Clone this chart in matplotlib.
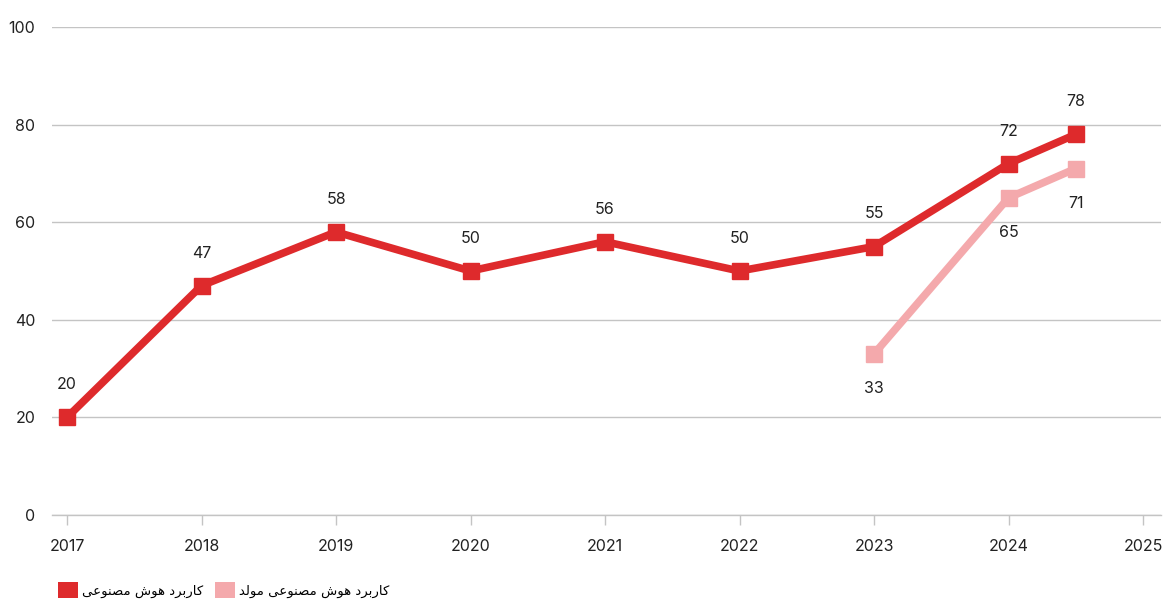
import matplotlib
matplotlib.use("Agg")
import matplotlib.pyplot as plt
from matplotlib.patches import Patch

# ---- data ----
years_ai = [2017, 2018, 2019, 2020, 2021, 2022, 2023, 2024, 2024.5]
values_ai = [20, 47, 58, 50, 56, 50, 55, 72, 78]
years_gen = [2023, 2024, 2024.5]
values_gen = [33, 65, 71]
xticks = [2017, 2018, 2019, 2020, 2021, 2022, 2023, 2024, 2025]
yticks = [0, 20, 40, 60, 80, 100]
label_ai = "کاربرد هوش مصنوعی"
label_gen = "کاربرد هوش مصنوعی مولد"

RED = "#DE2A2C"
PINK = "#F4A9AC"

# ---- minimal Arabic/Persian shaping (isolated, final, initial, medial) ----
FORMS = {
    "\u0627": ("\uFE8D", "\uFE8E", None, None),
    "\u062F": ("\uFEA9", "\uFEAA", None, None),
    "\u0631": ("\uFEAD", "\uFEAE", None, None),
    "\u0648": ("\uFEED", "\uFEEE", None, None),
    "\u06A9": ("\uFB8E", "\uFB8F", "\uFB90", "\uFB91"),
    "\u0628": ("\uFE8F", "\uFE90", "\uFE91", "\uFE92"),
    "\u0647": ("\uFEE9", "\uFEEA", "\uFEEB", "\uFEEC"),
    "\u0634": ("\uFEB5", "\uFEB6", "\uFEB7", "\uFEB8"),
    "\u0645": ("\uFEE1", "\uFEE2", "\uFEE3", "\uFEE4"),
    "\u0635": ("\uFEB9", "\uFEBA", "\uFEBB", "\uFEBC"),
    "\u0646": ("\uFEE5", "\uFEE6", "\uFEE7", "\uFEE8"),
    "\u0639": ("\uFEC9", "\uFECA", "\uFECB", "\uFECC"),
    "\u06CC": ("\uFBFC", "\uFBFD", "\uFBFE", "\uFBFF"),
    "\u0644": ("\uFEDD", "\uFEDE", "\uFEDF", "\uFEE0"),
}


def shape(text):
    out = []
    n = len(text)
    for i, ch in enumerate(text):
        if ch not in FORMS:
            out.append(ch)
            continue
        iso, fin, ini, med = FORMS[ch]
        prev = text[i - 1] if i > 0 else None
        nxt = text[i + 1] if i < n - 1 else None
        join_prev = prev in FORMS and FORMS[prev][2] is not None
        join_next = nxt in FORMS and ini is not None
        if join_prev and join_next:
            out.append(med)
        elif join_prev:
            out.append(fin)
        elif join_next:
            out.append(ini)
        else:
            out.append(iso)
    return "".join(out)[::-1]


plt.rcParams["font.family"] = ["Inter", "DejaVu Sans"]

fig = plt.figure(figsize=(11.76, 6.12), dpi=100)
W, H = 1176, 612
ax = fig.add_axes([52 / W, 1 - 515 / H, (1161 - 52) / W, (515 - 27) / H])

ax.set_xlim(2017 - 15 / 134.5, 2025 + 18 / 134.5)
ax.set_ylim(0, 100)

ax.plot(years_gen, values_gen, color=PINK, lw=5.5, marker="s", ms=12,
        solid_joinstyle="miter", zorder=3)
ax.plot(years_ai, values_ai, color=RED, lw=5.5, marker="s", ms=12,
        solid_joinstyle="miter", zorder=4)

for x, v in zip(years_ai, values_ai):
    ax.annotate(str(v), (x, v), xytext=(0, 23.5), textcoords="offset points",
                ha="center", va="center", fontsize=11.5, color="#222222")
for x, v in zip(years_gen, values_gen):
    ax.annotate(str(v), (x, v), xytext=(0, -25), textcoords="offset points",
                ha="center", va="center", fontsize=11.5, color="#222222")

ax.set_yticks(yticks)
ax.set_xticks(xticks)
ax.set_xticklabels([str(t) for t in xticks])
ax.grid(axis="y", color="#c4c4c4", lw=1)
ax.set_axisbelow(True)
for s in ["top", "right", "left"]:
    ax.spines[s].set_visible(False)
ax.spines["bottom"].set_color("#c4c4c4")
ax.spines["bottom"].set_linewidth(1)
ax.tick_params(axis="y", length=0, pad=12, labelsize=11.5, labelcolor="#222222")
ax.tick_params(axis="x", length=7, width=1, color="#c4c4c4", pad=10,
               labelsize=11.5, labelcolor="#222222")

handles = [Patch(facecolor=RED, edgecolor="none"),
           Patch(facecolor=PINK, edgecolor="none")]
fig.legend(handles, [shape(label_ai), shape(label_gen)],
           loc="center left", bbox_to_anchor=(58 / W, 1 - 590 / H),
           borderaxespad=0, borderpad=0,
           ncol=2, frameon=False, handlelength=1.5, handleheight=1.5,
           handletextpad=0.3, columnspacing=0.9,
           prop={"family": ["DejaVu Sans"], "size": 9.5})

fig.savefig("out.png", dpi=100)
